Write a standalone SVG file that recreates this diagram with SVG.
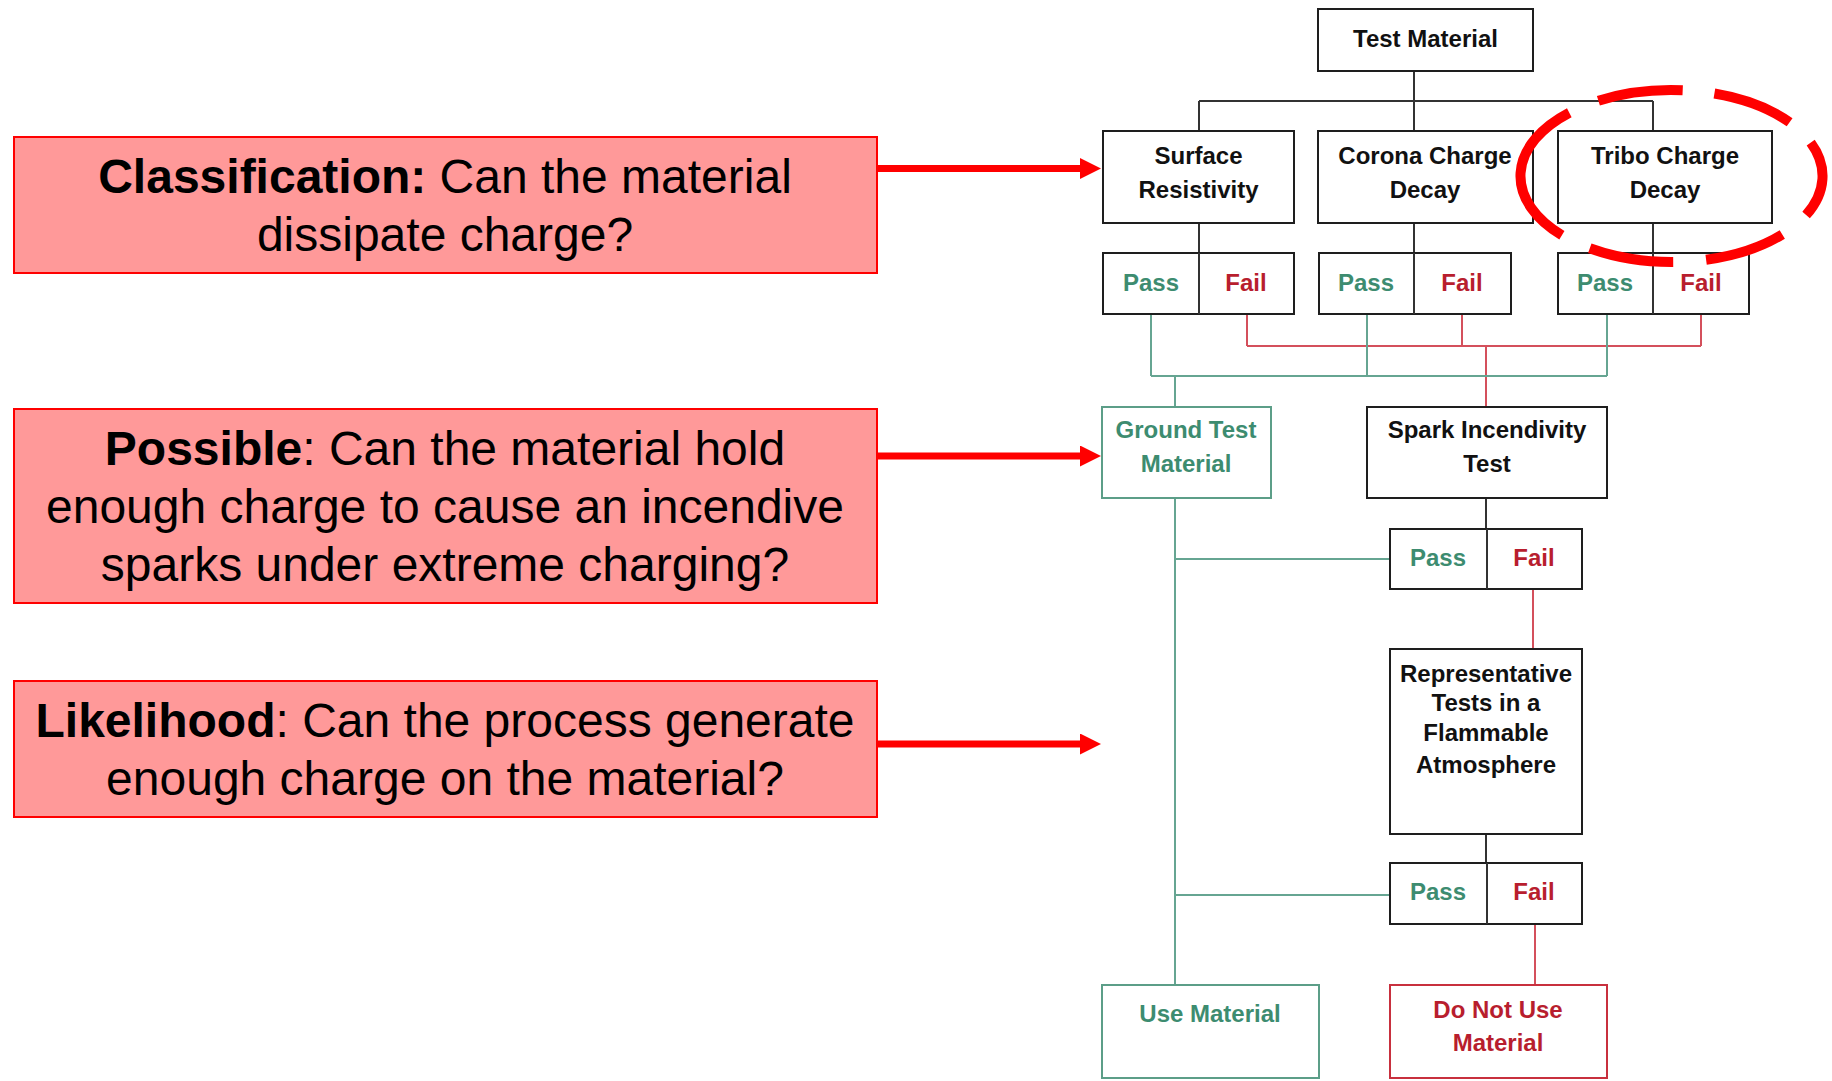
<svg xmlns="http://www.w3.org/2000/svg" width="1832" height="1081" viewBox="0 0 1832 1081">
<style>
.q{fill:#ff9999;stroke:#ff0000;stroke-width:2}
.qt{font-family:"Liberation Sans",Arial,sans-serif;font-size:48px;fill:#000;text-anchor:middle}
.b{font-weight:bold}
.arr{stroke:#ff0000;stroke-width:7;fill:none}
.box{fill:#fff;stroke:#1e1e1e;stroke-width:2}
.gbox{fill:#fff;stroke:#5c9e88;stroke-width:2}
.rbox{fill:#fff;stroke:#c8303e;stroke-width:2}
.t{font-family:"Liberation Sans",Arial,sans-serif;font-size:24px;font-weight:bold;text-anchor:middle;fill:#111}
.pass{fill:#3d8c70}
.fail{fill:#b81e2e}
.k{stroke:#333;stroke-width:2;fill:none}
.g{stroke:#66a592;stroke-width:2;fill:none}
.r{stroke:#d4505c;stroke-width:2;fill:none}
.ell{stroke:#ff0000;stroke-width:10;fill:none}
</style>
<defs>
<marker id="ah" viewBox="0 0 21 21" refX="2" refY="10.5" markerWidth="21" markerHeight="21" markerUnits="userSpaceOnUse" orient="auto">
<path d="M0,0 L21,10.5 L0,21 z" fill="#ff0000"/>
</marker>
</defs>
<rect width="1832" height="1081" fill="#fff"/>

<g id="connectors">
<path class="k" d="M1414,71 V101 M1199,101 H1653 M1199,101 V131 M1414,101 V131 M1653,101 V131"/>
<path class="k" d="M1199,223 V253 M1414,223 V253 M1653,223 V253"/>
<path class="r" d="M1247,314 V346 M1462,314 V346 M1701,314 V346 M1247,346 H1701 M1486,346 V407"/>
<path class="g" d="M1151,314 V376 M1367,314 V376 M1607,314 V376 M1151,376 H1607 M1175,376 V407"/>
<path class="k" d="M1486,498 V529 M1486,834 V863"/>
<path class="g" d="M1175,498 V985 M1175,559 H1390 M1175,895 H1390"/>
<path class="r" d="M1533,589 V649 M1535,924 V985"/>
<line class="arr" x1="877" y1="168.5" x2="1082" y2="168.5" marker-end="url(#ah)"/>
<line class="arr" x1="877" y1="456" x2="1082" y2="456" marker-end="url(#ah)"/>
<line class="arr" x1="877" y1="744" x2="1082" y2="744" marker-end="url(#ah)"/>
</g>

<g id="q-classification">
<rect class="q" x="14" y="137" width="863" height="136"/>
<text class="qt" x="445" y="193"><tspan class="b">Classification:</tspan> Can the material</text>
<text class="qt" x="445" y="251">dissipate charge?</text>
</g>
<g id="q-possible">
<rect class="q" x="14" y="409" width="863" height="194"/>
<text class="qt" x="445" y="465"><tspan class="b">Possible</tspan>: Can the material hold</text>
<text class="qt" x="445" y="523">enough charge to cause an incendive</text>
<text class="qt" x="445" y="581">sparks under extreme charging?</text>
</g>
<g id="q-likelihood">
<rect class="q" x="14" y="681" width="863" height="136"/>
<text class="qt" x="445" y="737"><tspan class="b">Likelihood</tspan>: Can the process generate</text>
<text class="qt" x="445" y="795">enough charge on the material?</text>
</g>

<g id="test-material">
<rect class="box" x="1318" y="9" width="215" height="62"/>
<text class="t" x="1425.5" y="47">Test Material</text>
</g>
<g id="surface-resistivity">
<rect class="box" x="1103" y="131" width="191" height="92"/>
<text class="t" x="1198.5" y="164">Surface</text>
<text class="t" x="1198.5" y="198">Resistivity</text>
</g>
<g id="corona-charge-decay">
<rect class="box" x="1318" y="131" width="215" height="92"/>
<text class="t" x="1425" y="164">Corona Charge</text>
<text class="t" x="1425" y="198">Decay</text>
</g>
<g id="tribo-charge-decay">
<rect class="box" x="1558" y="131" width="214" height="92"/>
<text class="t" x="1665" y="164">Tribo Charge</text>
<text class="t" x="1665" y="198">Decay</text>
</g>
<g id="surface-passfail">
<rect class="box" x="1103" y="253" width="191" height="61"/>
<line class="k" x1="1199" y1="253" x2="1199" y2="314"/>
<text class="t pass" x="1151" y="291">Pass</text>
<text class="t fail" x="1246" y="291">Fail</text>
</g>
<g id="corona-passfail">
<rect class="box" x="1319" y="253" width="192" height="61"/>
<line class="k" x1="1414" y1="253" x2="1414" y2="314"/>
<text class="t pass" x="1366" y="291">Pass</text>
<text class="t fail" x="1462" y="291">Fail</text>
</g>
<g id="tribo-passfail">
<rect class="box" x="1558" y="253" width="191" height="61"/>
<line class="k" x1="1653" y1="253" x2="1653" y2="314"/>
<text class="t pass" x="1605" y="291">Pass</text>
<text class="t fail" x="1701" y="291">Fail</text>
</g>
<g id="ground-test-material">
<rect class="gbox" x="1102" y="407" width="169" height="91"/>
<text class="t pass" x="1186" y="438">Ground Test</text>
<text class="t pass" x="1186" y="472">Material</text>
</g>
<g id="spark-incendivity-test">
<rect class="box" x="1367" y="407" width="240" height="91"/>
<text class="t" x="1487" y="438">Spark Incendivity</text>
<text class="t" x="1487" y="472">Test</text>
</g>
<g id="spark-passfail">
<rect class="box" x="1390" y="529" width="192" height="60"/>
<line class="k" x1="1487" y1="529" x2="1487" y2="589"/>
<text class="t pass" x="1438" y="566">Pass</text>
<text class="t fail" x="1534" y="566">Fail</text>
</g>
<g id="representative-tests">
<rect class="box" x="1390" y="649" width="192" height="185"/>
<text class="t" x="1486" y="682">Representative</text>
<text class="t" x="1486" y="711">Tests in a</text>
<text class="t" x="1486" y="741">Flammable</text>
<text class="t" x="1486" y="773">Atmosphere</text>
</g>
<g id="representative-passfail">
<rect class="box" x="1390" y="863" width="192" height="61"/>
<line class="k" x1="1487" y1="863" x2="1487" y2="924"/>
<text class="t pass" x="1438" y="900">Pass</text>
<text class="t fail" x="1534" y="900">Fail</text>
</g>
<g id="use-material">
<rect class="gbox" x="1102" y="985" width="217" height="93"/>
<text class="t pass" x="1210" y="1022">Use Material</text>
</g>
<g id="do-not-use-material">
<rect class="rbox" x="1390" y="985" width="217" height="93"/>
<text class="t fail" x="1498" y="1018">Do Not Use</text>
<text class="t fail" x="1498" y="1051">Material</text>
</g>

<g id="highlight-ellipse">
<path class="ell" d="M1810.7,142.6 A151,86 0 0 1 1806.1,215.0 M1782.3,234.4 A151,86 0 0 1 1706.1,259.7 M1673.2,262 A151,86 0 0 1 1589.8,248.3 M1561.9,235.2 A151,86 0 0 1 1569.3,112.7 M1598.4,100.7 A151,86 0 0 1 1682.7,90.3 M1714.4,93.5 A151,86 0 0 1 1789.6,122.3"/>
</g>
</svg>
